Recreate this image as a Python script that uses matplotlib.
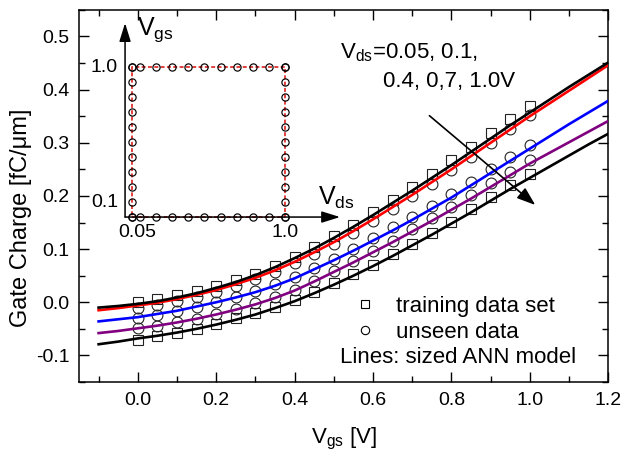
import matplotlib
matplotlib.use("Agg")
import matplotlib.pyplot as plt
from matplotlib.lines import Line2D
from matplotlib.ticker import MultipleLocator, FormatStrFormatter

plt.rcParams['font.family'] = ['Liberation Sans', 'DejaVu Sans']
plt.rcParams['mathtext.fontset'] = 'custom'
plt.rcParams['mathtext.rm'] = 'Liberation Sans'
plt.rcParams['mathtext.it'] = 'Liberation Sans:italic'
plt.rcParams['axes.unicode_minus'] = False

# ANN model lines (Vgs sweep)
vgs_line = [-0.10, -0.05, 0.00, 0.05, 0.10, 0.15, 0.20, 0.25, 0.30, 0.35, 0.40, 0.45, 0.50, 0.55,
            0.60, 0.65, 0.70, 0.75, 0.80, 0.85, 0.90, 0.95, 1.00, 1.05, 1.10, 1.15, 1.20]
line_005 = [-0.010, -0.007, -0.003, 0.002, 0.009, 0.017, 0.027, 0.038, 0.051, 0.066, 0.083, 0.101, 0.121, 0.142,
            0.164, 0.187, 0.210, 0.234, 0.258, 0.283, 0.308, 0.333, 0.357, 0.381, 0.405, 0.428, 0.451]
line_01 = [-0.015, -0.011, -0.006, -0.001, 0.006, 0.014, 0.023, 0.034, 0.046, 0.060, 0.076, 0.094, 0.113, 0.134,
           0.156, 0.179, 0.202, 0.226, 0.250, 0.275, 0.300, 0.325, 0.350, 0.374, 0.398, 0.422, 0.446]
line_04 = [-0.036, -0.032, -0.028, -0.022, -0.016, -0.008, 0.000, 0.009, 0.019, 0.031, 0.045, 0.062, 0.079, 0.097,
           0.116, 0.135, 0.155, 0.176, 0.197, 0.220, 0.243, 0.266, 0.289, 0.312, 0.335, 0.357, 0.379]
line_07 = [-0.058, -0.054, -0.049, -0.044, -0.038, -0.031, -0.023, -0.014, -0.004, 0.008, 0.022, 0.039, 0.057, 0.075,
           0.094, 0.113, 0.133, 0.153, 0.174, 0.195, 0.217, 0.239, 0.261, 0.281, 0.301, 0.321, 0.341]
line_10 = [-0.079, -0.074, -0.068, -0.063, -0.057, -0.050, -0.042, -0.033, -0.023, -0.011, 0.002, 0.017, 0.033, 0.050,
           0.068, 0.087, 0.107, 0.127, 0.148, 0.169, 0.191, 0.213, 0.234, 0.255, 0.276, 0.297, 0.317]

# measured / simulated points
vgs_pts = [0.00, 0.05, 0.10, 0.15, 0.20, 0.25, 0.30, 0.35, 0.40, 0.45, 0.50,
           0.55, 0.60, 0.65, 0.70, 0.75, 0.80, 0.85, 0.90, 0.95, 1.00]
sq_005 = [0.000, 0.007, 0.014, 0.022, 0.031, 0.041, 0.054, 0.068, 0.085, 0.104, 0.124,
          0.146, 0.169, 0.193, 0.217, 0.242, 0.267, 0.292, 0.318, 0.344, 0.370]
ci_01 = [-0.010, -0.005, 0.002, 0.010, 0.019, 0.030, 0.043, 0.057, 0.073, 0.091, 0.110,
         0.131, 0.153, 0.176, 0.199, 0.223, 0.248, 0.273, 0.299, 0.326, 0.353]
ci_04 = [-0.030, -0.024, -0.017, -0.009, 0.000, 0.010, 0.021, 0.034, 0.048, 0.064, 0.082,
         0.101, 0.121, 0.141, 0.161, 0.182, 0.204, 0.227, 0.250, 0.273, 0.295]
ci_07 = [-0.049, -0.044, -0.038, -0.031, -0.022, -0.013, -0.002, 0.010, 0.024, 0.040, 0.058,
         0.077, 0.096, 0.116, 0.137, 0.158, 0.180, 0.202, 0.224, 0.245, 0.267]
sq_10 = [-0.071, -0.064, -0.057, -0.050, -0.040, -0.030, -0.020, -0.008, 0.005, 0.020, 0.036,
         0.053, 0.071, 0.090, 0.110, 0.130, 0.151, 0.176, 0.198, 0.220, 0.242]

# inset: sampled bias grid
inset_vds = [0.05, 0.1, 0.2, 0.3, 0.4, 0.5, 0.6, 0.7, 0.8, 0.9, 1.0]
inset_vgs = [0.0, 0.1, 0.2, 0.3, 0.4, 0.5, 0.6, 0.7, 0.8, 0.9, 1.0]
box_vds = [0.05, 1.0, 1.0, 0.05, 0.05]
box_vgs = [0.0, 0.0, 1.0, 1.0, 0.0]

fig = plt.figure(figsize=(6.27, 4.51), dpi=100)
ax = fig.add_axes([0.126, 0.153, 0.844, 0.825])

mk = dict(ls='none', mfc='none', mec='#222222', mew=0.8, zorder=2, clip_on=False)
for vals in (sq_005, sq_10):
    ax.plot(vgs_pts, vals, marker='s', ms=7.3, **mk)
for vals in (ci_01, ci_04, ci_07):
    ax.plot(vgs_pts, vals, marker='o', ms=7.8, **mk)

lw = 1.9
ax.plot(vgs_line, line_10, color='black', lw=lw, zorder=3)
ax.plot(vgs_line, line_07, color='#800080', lw=lw, zorder=3)
ax.plot(vgs_line, line_04, color='#0000ff', lw=lw, zorder=3)
ax.plot(vgs_line, line_01, color='#ff0000', lw=lw, zorder=3)
ax.plot(vgs_line, line_005, color='black', lw=lw, zorder=3)

ax.set_xlim(-0.15, 1.2)
ax.set_ylim(-0.15, 0.55)
ax.xaxis.set_major_locator(MultipleLocator(0.2))
ax.xaxis.set_minor_locator(MultipleLocator(0.1))
ax.yaxis.set_major_locator(MultipleLocator(0.1))
ax.yaxis.set_minor_locator(MultipleLocator(0.05))
ax.xaxis.set_major_formatter(FormatStrFormatter('%.1f'))
ax.yaxis.set_major_formatter(FormatStrFormatter('%.1f'))
ax.tick_params(which='both', direction='in', top=True, right=True, labelsize=14, width=1)
ax.tick_params(which='major', length=7, pad=7)
ax.tick_params(which='minor', length=4)
for s in ax.spines.values():
    s.set_linewidth(1.1)

ax.set_xlabel(r'$\mathregular{V_{gs}}$ [V]', fontsize=16)
ax.set_ylabel('Gate Charge [fC/\u03bcm]', fontsize=17)
ax.xaxis.set_label_coords(0.5, -0.118)
ax.yaxis.set_label_coords(-0.088, 0.44)

ax.text(0.493, 0.884, r'$\mathregular{V_{ds}}$=0.05, 0.1,', transform=ax.transAxes,
        fontsize=16, va='center', ha='left')
ax.text(0.575, 0.807, '0.4, 0,7, 1.0V', transform=ax.transAxes,
        fontsize=16, va='center', ha='left')
ax.annotate('', xy=(1.014, 0.183), xytext=(0.744, 0.351),
            arrowprops=dict(arrowstyle='-|>,head_length=0.7,head_width=0.25', color='black',
                            lw=1.2, mutation_scale=16, shrinkA=0, shrinkB=0), zorder=4)

handles = [Line2D([], [], ls='none', marker='s', ms=6, mfc='none', mec='black', mew=0.8),
           Line2D([], [], ls='none', marker='o', ms=6, mfc='none', mec='black', mew=0.8)]
ax.legend(handles, ['training data set', 'unseen data'], loc='upper left',
          bbox_to_anchor=(0.52, 0.232), frameon=False, fontsize=16, borderpad=0,
          handlelength=1.0, handletextpad=0.86, labelspacing=0.25, borderaxespad=0)
ax.text(0.493, 0.065, 'Lines: sized ANN model', transform=ax.transAxes,
        fontsize=16, va='center', ha='left')

# inset with the sampled Vds/Vgs grid
ins = fig.add_axes([0.1834, 0.5011, 0.3748, 0.4656])
ins.set_xlim(-0.056, 1.404)
ins.set_ylim(-0.053, 1.347)
ins.axis('off')
ins.patch.set_alpha(0)
x0 = 0.0065
arr = dict(arrowstyle='-|>,head_length=0.8,head_width=0.25', color='black', lw=1.1,
           mutation_scale=14, shrinkA=0, shrinkB=0)
ins.annotate('', xy=(x0, 1.293), xytext=(x0, 0.0), arrowprops=arr)
ins.annotate('', xy=(1.342, 0.0), xytext=(x0, 0.0), arrowprops=arr)

ins.plot(box_vds, box_vgs, color='#e03030', lw=1.3, ls=(0, (2.2, 1.3)), zorder=2)
ring = dict(ls='none', marker='o', ms=5.2, mfc='none', mec='black', mew=0.85, zorder=3, clip_on=False)
ins.plot(inset_vds, [inset_vgs[0]] * len(inset_vds), **ring)
ins.plot(inset_vds, [inset_vgs[-1]] * len(inset_vds), **ring)
ins.plot([inset_vds[0]] * len(inset_vgs), inset_vgs, **ring)
ins.plot([inset_vds[-1]] * len(inset_vgs), inset_vgs, **ring)

ins.text(-0.037, 1.0, '1.0', fontsize=14, ha='right', va='center')
ins.text(-0.037, 0.1, '0.1', fontsize=14, ha='right', va='center')
ins.text(0.085, -0.1, '0.05', fontsize=14, ha='center', va='center')
ins.text(1.0, -0.1, '1.0', fontsize=14, ha='center', va='center')
ins.text(0.081, 1.25, r'$\mathregular{V_{gs}}$', fontsize=18, ha='left', va='center')
ins.text(1.205, 0.13, r'$\mathregular{V_{ds}}$', fontsize=18, ha='left', va='center')

fig.savefig('out.png', dpi=100)
